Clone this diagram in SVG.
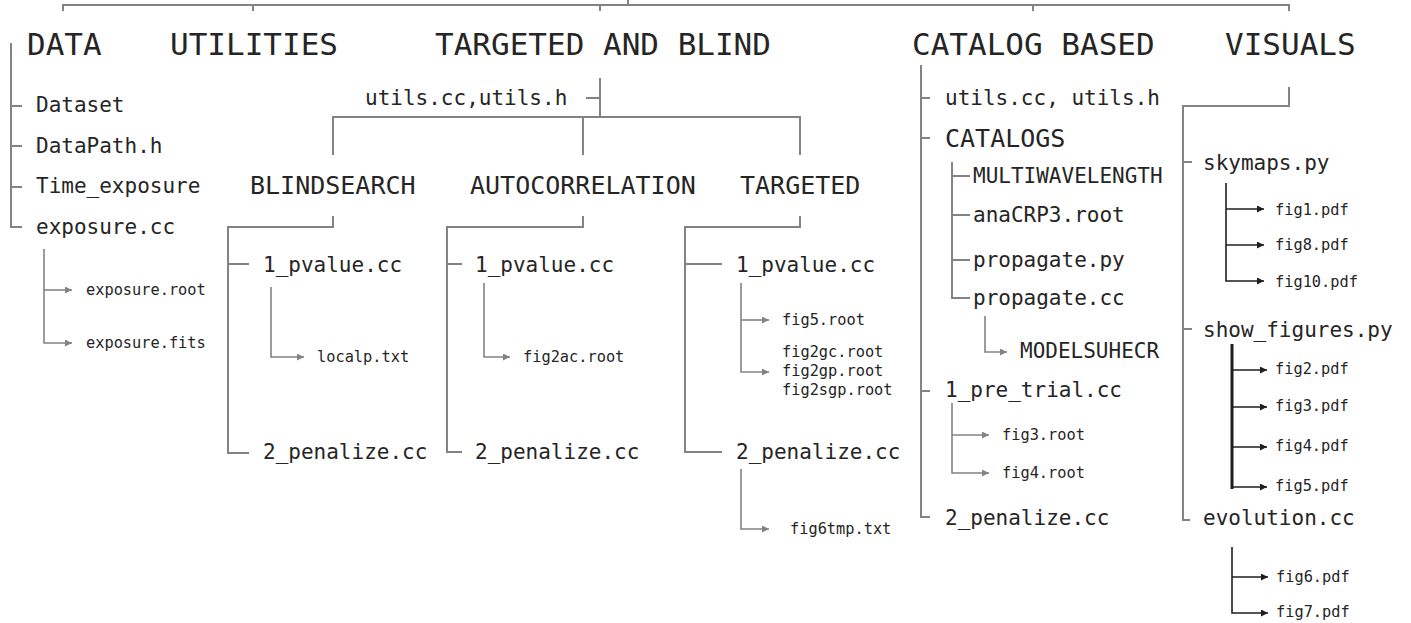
<svg xmlns="http://www.w3.org/2000/svg" width="1411" height="623" viewBox="0 0 1411 623">
<defs>
<style>
text{font-family:"DejaVu Sans Mono","Liberation Mono",monospace;fill:#252525}
.h{font-size:31px}
.m{font-size:25px}
.n{font-size:21px}
.s{font-size:15.3px}
.c{fill:none;stroke:#838383;stroke-width:2}
.a{fill:none;stroke:#838383;stroke-width:1.6;marker-end:url(#ag)}
.b{fill:none;stroke:#1e1e1e;stroke-width:1.6;marker-end:url(#ab)}
.bt{fill:none;stroke:#1e1e1e;stroke-width:3}
</style>
<marker id="ag" viewBox="0 0 10 10" refX="10" refY="5" markerWidth="10" markerHeight="7" markerUnits="userSpaceOnUse" orient="auto"><path d="M0,0 L10,5 L0,10 z" fill="#838383"/></marker>
<marker id="ab" viewBox="0 0 10 10" refX="10" refY="5" markerWidth="10" markerHeight="7" markerUnits="userSpaceOnUse" orient="auto"><path d="M0,0 L10,5 L0,10 z" fill="#1e1e1e"/></marker>
</defs>
<rect width="1411" height="623" fill="#ffffff"/>
<g id="connectors">
<path class="c" d="M63,11 V5 H1289 V11 M253,5 V11 M600,5 V11 M1033,5 V11 M628,0 V5"/>
<path class="c" d="M11,43 V227 H22 M11,106 H22 M11,146 H22 M11,187 H22"/>
<path class="a" d="M44,249 V343 H72"/>
<path class="a" d="M44,290 H72"/>
<path class="c" d="M586,98 H600 M600,78 V117 M333,155 V117 H800 V155 M583,117 V155"/>
<path class="c" d="M333,216 V227 H228 V453 H249 M228,264 H249"/>
<path class="a" d="M271,287 V357 H304"/>
<path class="c" d="M583,216 V227 H447 V452 H462 M447,264 H462"/>
<path class="a" d="M484,283 V357 H510"/>
<path class="c" d="M800,216 V227 H685 V452 H722 M685,264 H722"/>
<path class="a" d="M741,283 V372 H769"/>
<path class="a" d="M741,320 H769"/>
<path class="a" d="M741,469 V529 H769"/>
<path class="c" d="M921,65 V517 H930 M921,98 H930 M921,138 H930 M921,391 H930"/>
<path class="c" d="M952,162 V298 H970 M952,176 H970 M952,215 H970 M952,260 H970"/>
<path class="a" d="M985,316 V352 H1007"/>
<path class="a" d="M952,403 V473 H989"/>
<path class="a" d="M952,435 H989"/>
<path class="c" d="M1289,87 V106 H1183 V520 H1190 M1183,162 H1192 M1183,329 H1192"/>
<path class="b" d="M1226,183 V281 H1264"/>
<path class="b" d="M1226,209 H1264"/>
<path class="b" d="M1226,245 H1264"/>
<path class="bt" d="M1232,344 V489"/>
<path class="b" d="M1232,370 H1267"/>
<path class="b" d="M1232,407 H1267"/>
<path class="b" d="M1232,447 H1267"/>
<path class="b" d="M1232,487 H1267"/>
<path class="b" d="M1232,547 V613 H1268"/>
<path class="b" d="M1232,577 H1268"/>
</g>
<g id="data"><text class="h" x="27" y="55">DATA</text></g>
<g id="utilities"><text class="h" x="170" y="55">UTILITIES</text></g>
<g id="targeted-and-blind"><text class="h" x="435" y="55">TARGETED AND BLIND</text></g>
<g id="catalog-based"><text class="h" x="912" y="55">CATALOG BASED</text></g>
<g id="visuals"><text class="h" x="1225" y="55">VISUALS</text></g>
<g id="dataset"><text class="n" x="36" y="112">Dataset</text></g>
<g id="datapath"><text class="n" x="36" y="153">DataPath.h</text></g>
<g id="time-exposure"><text class="n" x="36" y="193">Time_exposure</text></g>
<g id="exposure-cc"><text class="n" x="36" y="234">exposure.cc</text></g>
<g id="exposure-root"><text class="s" x="86" y="295">exposure.root</text></g>
<g id="exposure-fits"><text class="s" x="86" y="348">exposure.fits</text></g>
<g id="tb-utils"><text class="n" x="365" y="105">utils.cc,utils.h</text></g>
<g id="blindsearch"><text class="m" x="250" y="194">BLINDSEARCH</text></g>
<g id="autocorrelation"><text class="m" x="470" y="194">AUTOCORRELATION</text></g>
<g id="targeted"><text class="m" x="740" y="194">TARGETED</text></g>
<g id="bs-pvalue"><text class="n" x="263" y="272">1_pvalue.cc</text></g>
<g id="bs-penalize"><text class="n" x="263" y="459">2_penalize.cc</text></g>
<g id="bs-localp"><text class="s" x="317" y="362">localp.txt</text></g>
<g id="ac-pvalue"><text class="n" x="475" y="272">1_pvalue.cc</text></g>
<g id="ac-penalize"><text class="n" x="475" y="459">2_penalize.cc</text></g>
<g id="ac-fig2ac"><text class="s" x="523" y="362">fig2ac.root</text></g>
<g id="tg-pvalue"><text class="n" x="736" y="272">1_pvalue.cc</text></g>
<g id="tg-penalize"><text class="n" x="736" y="459">2_penalize.cc</text></g>
<g id="tg-fig5"><text class="s" x="782" y="325">fig5.root</text></g>
<g id="tg-fig2"><text class="s" x="782" y="357">fig2gc.root</text><text class="s" x="782" y="376">fig2gp.root</text><text class="s" x="782" y="395">fig2sgp.root</text></g>
<g id="tg-fig6tmp"><text class="s" x="790" y="534">fig6tmp.txt</text></g>
<g id="cb-utils"><text class="n" x="945" y="105">utils.cc, utils.h</text></g>
<g id="catalogs"><text class="m" x="945" y="147">CATALOGS</text></g>
<g id="multiwavelength"><text class="n" x="973" y="183">MULTIWAVELENGTH</text></g>
<g id="anacrp3"><text class="n" x="973" y="222">anaCRP3.root</text></g>
<g id="propagate-py"><text class="n" x="973" y="267">propagate.py</text></g>
<g id="propagate-cc"><text class="n" x="973" y="305">propagate.cc</text></g>
<g id="modelsuhecr"><text class="n" x="1020" y="358">MODELSUHECR</text></g>
<g id="pre-trial"><text class="n" x="945" y="397">1_pre_trial.cc</text></g>
<g id="cb-fig3"><text class="s" x="1002" y="440">fig3.root</text></g>
<g id="cb-fig4"><text class="s" x="1002" y="478">fig4.root</text></g>
<g id="cb-penalize"><text class="n" x="945" y="525">2_penalize.cc</text></g>
<g id="skymaps"><text class="n" x="1203" y="170">skymaps.py</text></g>
<g id="fig1"><text class="s" x="1275" y="215">fig1.pdf</text></g>
<g id="fig8"><text class="s" x="1275" y="250">fig8.pdf</text></g>
<g id="fig10"><text class="s" x="1275" y="287">fig10.pdf</text></g>
<g id="show-figures"><text class="n" x="1203" y="337">show_figures.py</text></g>
<g id="fig2"><text class="s" x="1275" y="374">fig2.pdf</text></g>
<g id="fig3"><text class="s" x="1275" y="411">fig3.pdf</text></g>
<g id="fig4"><text class="s" x="1275" y="451">fig4.pdf</text></g>
<g id="fig5"><text class="s" x="1275" y="491">fig5.pdf</text></g>
<g id="evolution"><text class="n" x="1203" y="525">evolution.cc</text></g>
<g id="fig6"><text class="s" x="1276" y="582">fig6.pdf</text></g>
<g id="fig7"><text class="s" x="1276" y="617">fig7.pdf</text></g>
</svg>
